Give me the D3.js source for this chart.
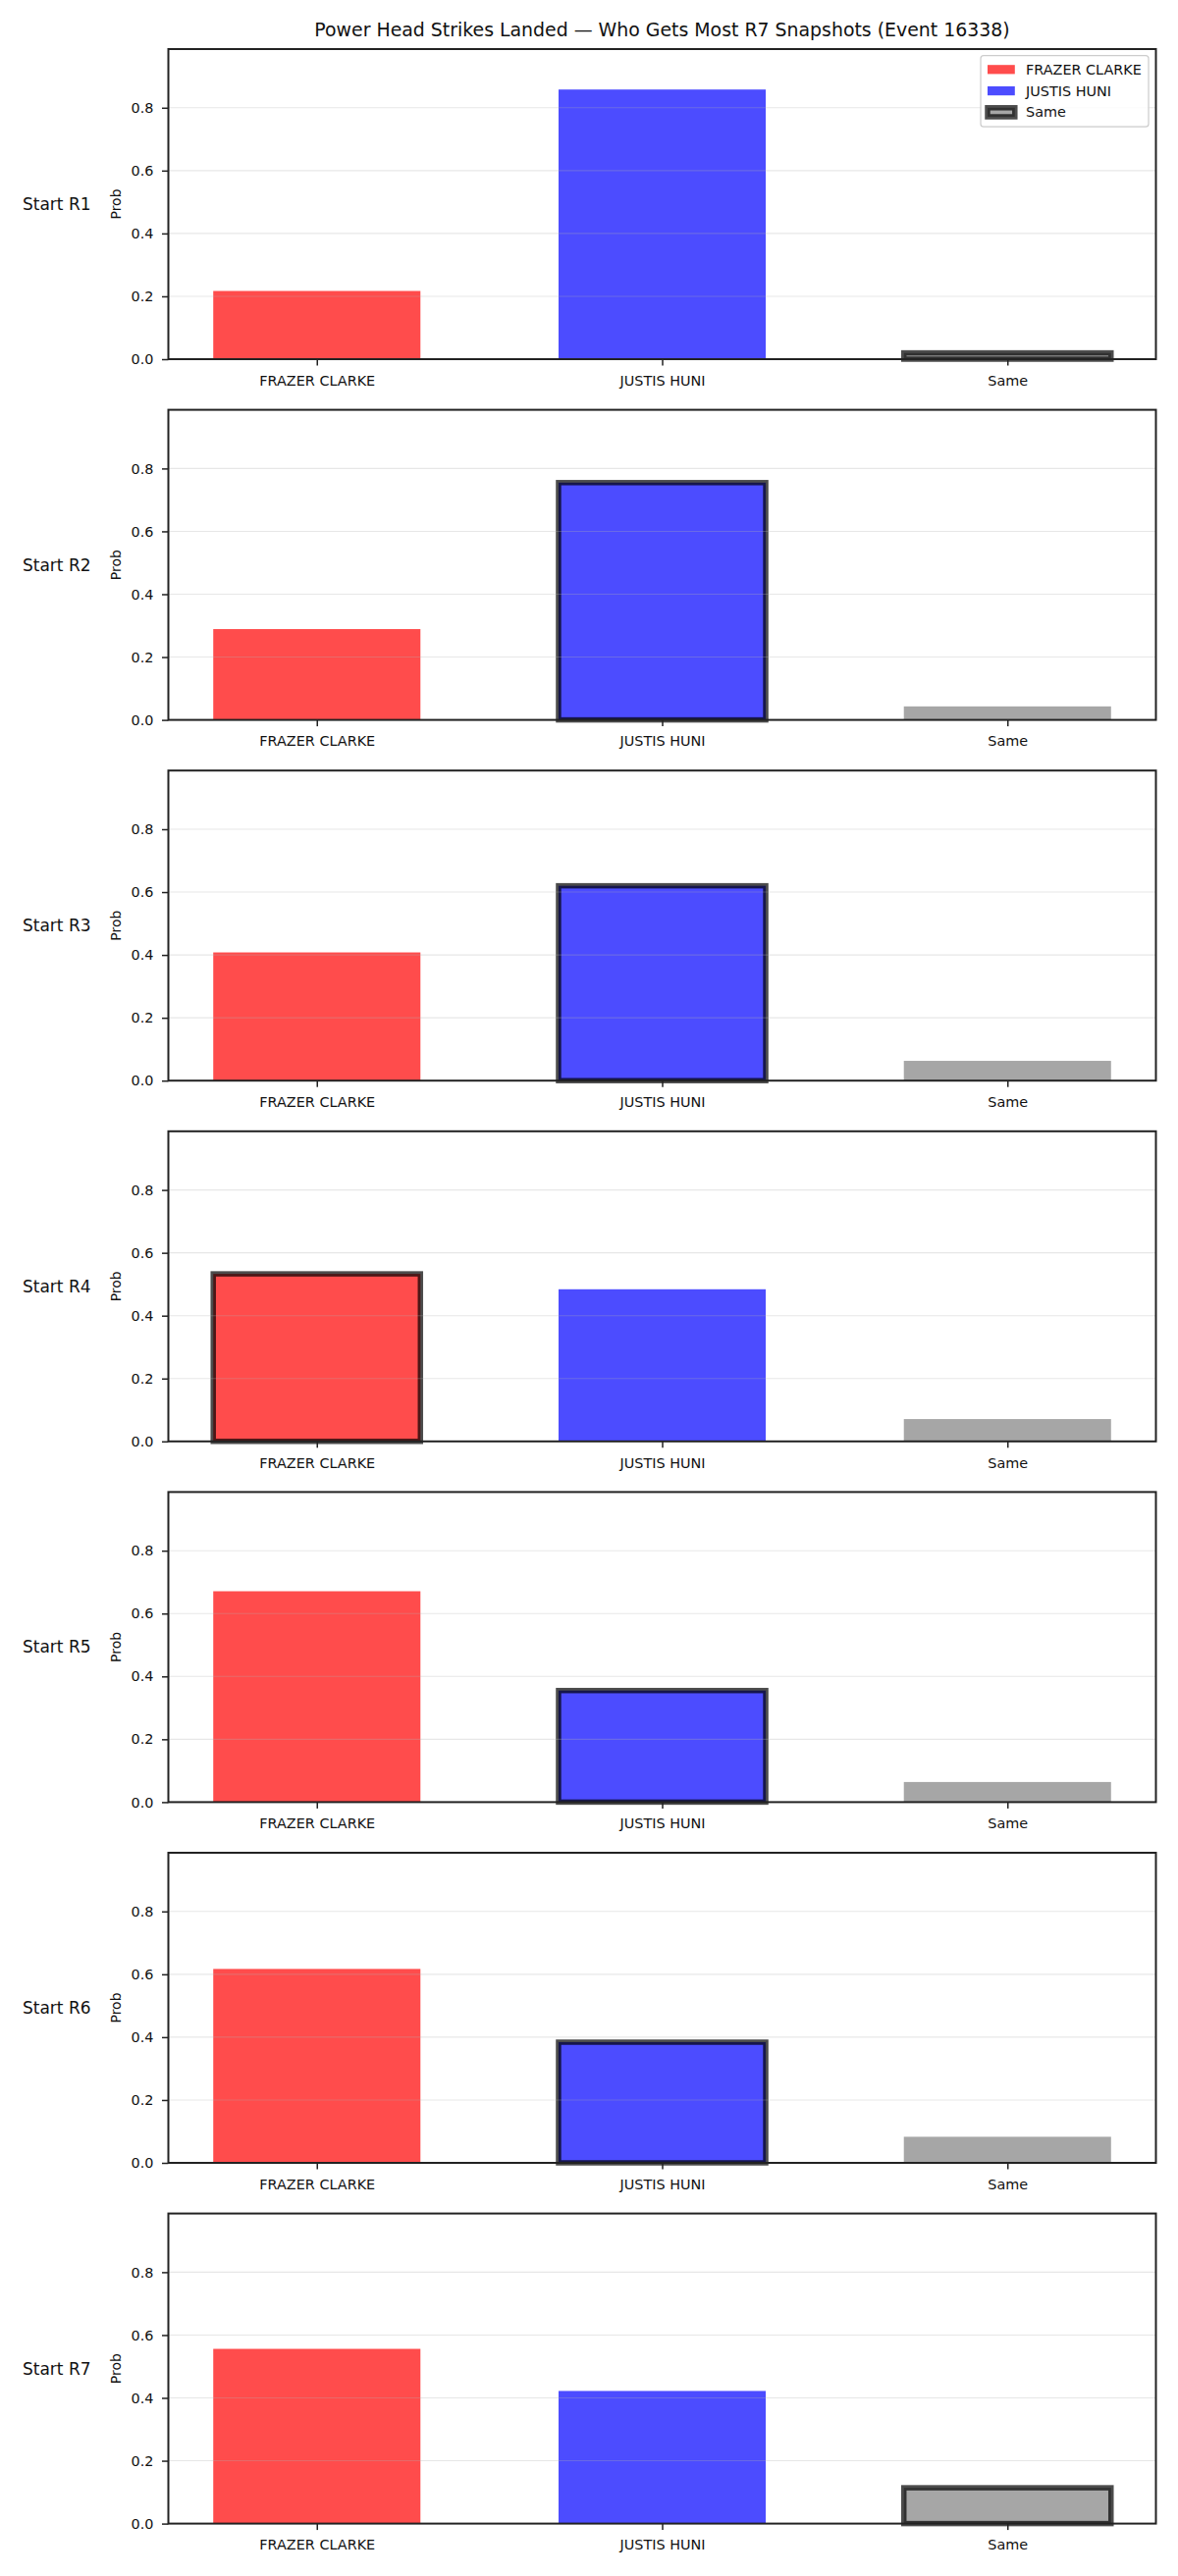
<!DOCTYPE html>
<html lang="en">
<head>
    <meta charset="UTF-8">
    <title>Power Head Strikes Landed</title>
    <script src="https://cdn.jsdelivr.net/npm/d3@7"></script>
    <style>
        body { margin: 0; background: #fff; }
        svg text { font-family: "DejaVu Sans", sans-serif; fill: #111; }
    </style>
</head>
<body>
    <div id="chart"></div>

    <script>
        // data
        var categories = ["FRAZER CLARKE", "JUSTIS HUNI", "Same"];
        var rounds = ["Start R1", "Start R2", "Start R3", "Start R4", "Start R5", "Start R6", "Start R7"];
        var frazerProb = [0.217, 0.289, 0.408, 0.533, 0.671, 0.617, 0.556];
        var huniProb   = [0.858, 0.755, 0.620, 0.484, 0.355, 0.384, 0.422];
        var sameProb   = [0.020, 0.043, 0.063, 0.071, 0.064, 0.083, 0.114];
        var mostSnapshots = ["Same", "JUSTIS HUNI", "JUSTIS HUNI", "FRAZER CLARKE", "JUSTIS HUNI", "JUSTIS HUNI", "Same"];
        var yTicks = [0, 0.2, 0.4, 0.6, 0.8];
        var titleText = "Power Head Strikes Landed \u2014 Who Gets Most R7 Snapshots (Event 16338)";

        var width = 1200;
        var height = 2625;

        // panel geometry
        var left = 171.5, right = 1177.5;
        var firstTop = 50, panelStep = 367.6, panelH = 316;

        var colors = {
            "FRAZER CLARKE": "rgb(255,0,0)",
            "JUSTIS HUNI": "rgb(0,0,255)",
            "Same": "rgb(128,128,128)"
        };

        var tickFont = '14.4px';

        var svg = d3.select('#chart')
                    .append('svg')
                    .attr('width', width)
                    .attr('height', height);

        var x = d3.scalePoint()
                  .domain(categories)
                  .range([left, right])
                  .padding(0.43);
        var barW = x.step() * 0.6;

        var yMax = d3.max(huniProb.concat(frazerProb, sameProb)) * 1.15;

        rounds.forEach(function(round, i) {
            var top = firstTop + i * panelStep;
            var bottom = top + panelH;
            var y = d3.scaleLinear().domain([0, yMax]).range([bottom, top]);

            var rows = [
                { cat: "FRAZER CLARKE", value: frazerProb[i] },
                { cat: "JUSTIS HUNI", value: huniProb[i] },
                { cat: "Same", value: sameProb[i] }
            ];

            var g = svg.append('g').attr('class', 'panel');

            // bars
            g.selectAll('.bar')
                .data(rows)
                .join('rect')
                .attr('class', 'bar')
                .attr('x', d => x(d.cat) - barW / 2)
                .attr('width', barW)
                .attr('y', d => y(d.value))
                .attr('height', d => y(0) - y(d.value))
                .attr('fill', d => colors[d.cat])
                .attr('fill-opacity', 0.7)
                .attr('stroke', d => d.cat === mostSnapshots[i] ? 'black' : 'none')
                .attr('stroke-opacity', 0.7)
                .attr('stroke-width', 5.5);

            // grid on top of the bars, faint
            g.selectAll('.grid')
                .data(yTicks.filter(t => t > 0))
                .join('line')
                .attr('class', 'grid')
                .attr('x1', left).attr('x2', right)
                .attr('y1', d => y(d)).attr('y2', d => y(d))
                .attr('stroke', '#b0b0b0')
                .attr('stroke-opacity', 0.3)
                .attr('stroke-width', 1.1);

            // y axis
            var yAxis = d3.axisLeft(y).tickValues(yTicks).tickFormat(d3.format('.1f')).tickSize(6.5).tickPadding(8.5);
            var ya = g.append('g').attr('transform', 'translate(' + left + ',0)').call(yAxis);
            ya.select('.domain').remove();
            ya.selectAll('.tick line').attr('stroke', '#222').attr('stroke-width', 1.5);
            ya.selectAll('.tick text').attr('font-size', tickFont).attr('font-family', 'DejaVu Sans').attr('fill', '#111');

            // x axis
            var xAxis = d3.axisBottom(x).tickSize(6.5).tickPadding(6);
            var xa = g.append('g').attr('transform', 'translate(0,' + bottom + ')').call(xAxis);
            xa.select('.domain').remove();
            xa.selectAll('.tick line').attr('stroke', '#222').attr('stroke-width', 1.5);
            xa.selectAll('.tick text').attr('font-size', tickFont).attr('font-family', 'DejaVu Sans').attr('fill', '#111')
                .attr('y', 16.5);

            // frame
            g.append('rect')
                .attr('x', left).attr('y', top)
                .attr('width', right - left).attr('height', panelH)
                .attr('fill', 'none')
                .attr('stroke', '#222')
                .attr('stroke-width', 2);

            // labels
            g.append('text')
                .attr('transform', 'translate(123,' + (top + panelH / 2) + ') rotate(-90)')
                .attr('text-anchor', 'middle')
                .attr('font-size', '14px')
                .text('Prob');

            g.append('text')
                .attr('x', 23)
                .attr('y', top + panelH / 2)
                .attr('dy', '0.35em')
                .attr('font-size', '17px')
                .text(round);

            if (i === 0) {
                g.append('text')
                    .attr('x', (left + right) / 2)
                    .attr('y', 37)
                    .attr('text-anchor', 'middle')
                    .attr('font-size', '18.9px')
                    .text(titleText);

                // legend uses the first panel's bars as handles
                var lg = g.append('g').attr('class', 'legend');
                lg.append('rect')
                    .attr('x', 999).attr('y', 56.7)
                    .attr('width', 171).attr('height', 72.5)
                    .attr('rx', 3).attr('ry', 3)
                    .attr('fill', 'white').attr('fill-opacity', 0.8)
                    .attr('stroke', '#cccccc').attr('stroke-width', 1.2);

                var rowY = d3.scaleLinear().domain([0, 2]).range([70.8, 114.4]);
                var items = lg.selectAll('.item')
                    .data(rows)
                    .join('g')
                    .attr('class', 'item')
                    .attr('transform', (d, k) => 'translate(1006,' + rowY(k) + ')');

                items.append('rect')
                    .attr('x', 0).attr('y', -4.6)
                    .attr('width', 27.8).attr('height', 9.2)
                    .attr('fill', d => colors[d.cat])
                    .attr('fill-opacity', 0.7)
                    .attr('stroke', d => d.cat === mostSnapshots[0] ? 'black' : 'none')
                    .attr('stroke-opacity', 0.7)
                    .attr('stroke-width', 5.5);

                items.append('text')
                    .attr('x', 39)
                    .attr('dy', '0.35em')
                    .attr('font-size', tickFont)
                    .text(d => d.cat);
            }
        });
    </script>
</body>
</html>
